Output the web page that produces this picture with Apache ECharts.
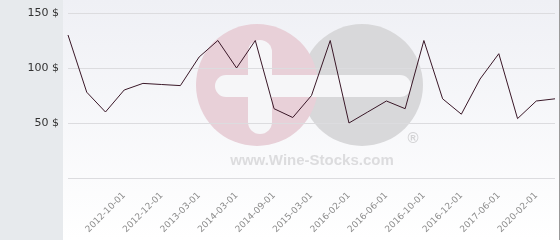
<!DOCTYPE html>
<html>
<head>
<meta charset="utf-8">
<script src="https://cdn.jsdelivr.net/npm/echarts@6/dist/echarts.min.js"></script>
<style>
html,body{margin:0;padding:0;background:#fff;}
#chart{width:560px;height:240px;}
</style>
</head>
<body>
<div id="chart"></div>
<script>
var categories = ['2012-07-01','2012-08-01','2012-09-01','2012-10-01','2012-11-01','2012-12-01','2013-01-01','2013-03-01','2013-09-01','2014-03-01','2014-06-01','2014-09-01','2014-12-01','2015-03-01','2015-09-01','2016-02-01','2016-04-01','2016-06-01','2016-08-01','2016-10-01','2016-11-01','2016-12-01','2017-03-01','2017-06-01','2018-06-01','2020-02-01','2020-06-01'];
var prices = [130,78,60,80,86,85,84,110,125,100,125,63,55,75,125,50,60,70,63,125,72,58,90,113,54,70,72];
var yTicks = [0,50,100,150];

var chart = echarts.init(document.getElementById('chart'), null, {renderer:'canvas'});
chart.setOption({
  animation:false,
  backgroundColor:'#ffffff',
  textStyle:{fontFamily:'DejaVu Sans'},
  grid:{left:68,right:5,top:13,bottom:62,containLabel:false},
  graphic:[
    {type:'rect',z:-5,silent:true,shape:{x:0,y:0,width:63,height:240},style:{fill:'#e7eaed'}},
    {type:'rect',z:-5,silent:true,shape:{x:63,y:0,width:496,height:240},
      style:{fill:new echarts.graphic.LinearGradient(0,0,0,1,[{offset:0,color:'#eff0f5'},{offset:1,color:'#ffffff'}])}},
    {type:'rect',z:-5,silent:true,shape:{x:559,y:0,width:1,height:240},style:{fill:'#9a9a9a'}},
    {type:'circle',z:-4,silent:true,shape:{cx:362,cy:85,r:61},style:{fill:'#d8d8da'}},
    {type:'circle',z:-4,silent:true,shape:{cx:257,cy:85,r:61},style:{fill:'#e8d0d8'}},
    {type:'rect',z:-4,silent:true,shape:{x:215,y:75,width:196,height:22,r:11},style:{fill:'#f6f6f8'}},
    {type:'rect',z:-4,silent:true,shape:{x:248,y:40,width:24,height:94,r:12},style:{fill:'#f6f6f8'}},
    {type:'text',z:-4,silent:true,style:{x:413,y:139,text:'®',fill:'#d3d3d5',font:'bold 15px "Liberation Sans"',align:'center',verticalAlign:'middle'}},
    {type:'text',z:-4,silent:true,style:{x:312,y:161,text:'www.Wine-Stocks.com',fill:'#dcdcde',font:'bold 15px "Liberation Sans"',align:'center',verticalAlign:'middle'}}
  ],
  xAxis:{
    type:'category',
    data:categories,
    boundaryGap:false,
    z:1,
    axisLine:{show:false},
    axisTick:{show:false},
    splitLine:{show:false},
    axisLabel:{
      rotate:45,
      margin:16,
      fontSize:9,
      color:'#8c8c8c',
      fontFamily:'DejaVu Sans',
      interval:function(i){return i>=3 && i%2===1;}
    }
  },
  yAxis:{
    type:'value',
    min:yTicks[0],
    max:yTicks[yTicks.length-1],
    interval:50,
    z:1,
    axisLine:{show:false},
    axisTick:{show:false},
    splitLine:{show:true,lineStyle:{color:'#dcdcdf',width:1}},
    axisLabel:{
      margin:9,
      fontSize:11,
      color:'#333333',
      fontFamily:'DejaVu Sans',
      formatter:function(v){return v===0?'':v+' $';}
    }
  },
  series:[{
    type:'line',
    data:prices,
    symbol:'none',
    z:3,
    lineStyle:{color:'#3a1828',width:1}
  }]
});
</script>
</body>
</html>
